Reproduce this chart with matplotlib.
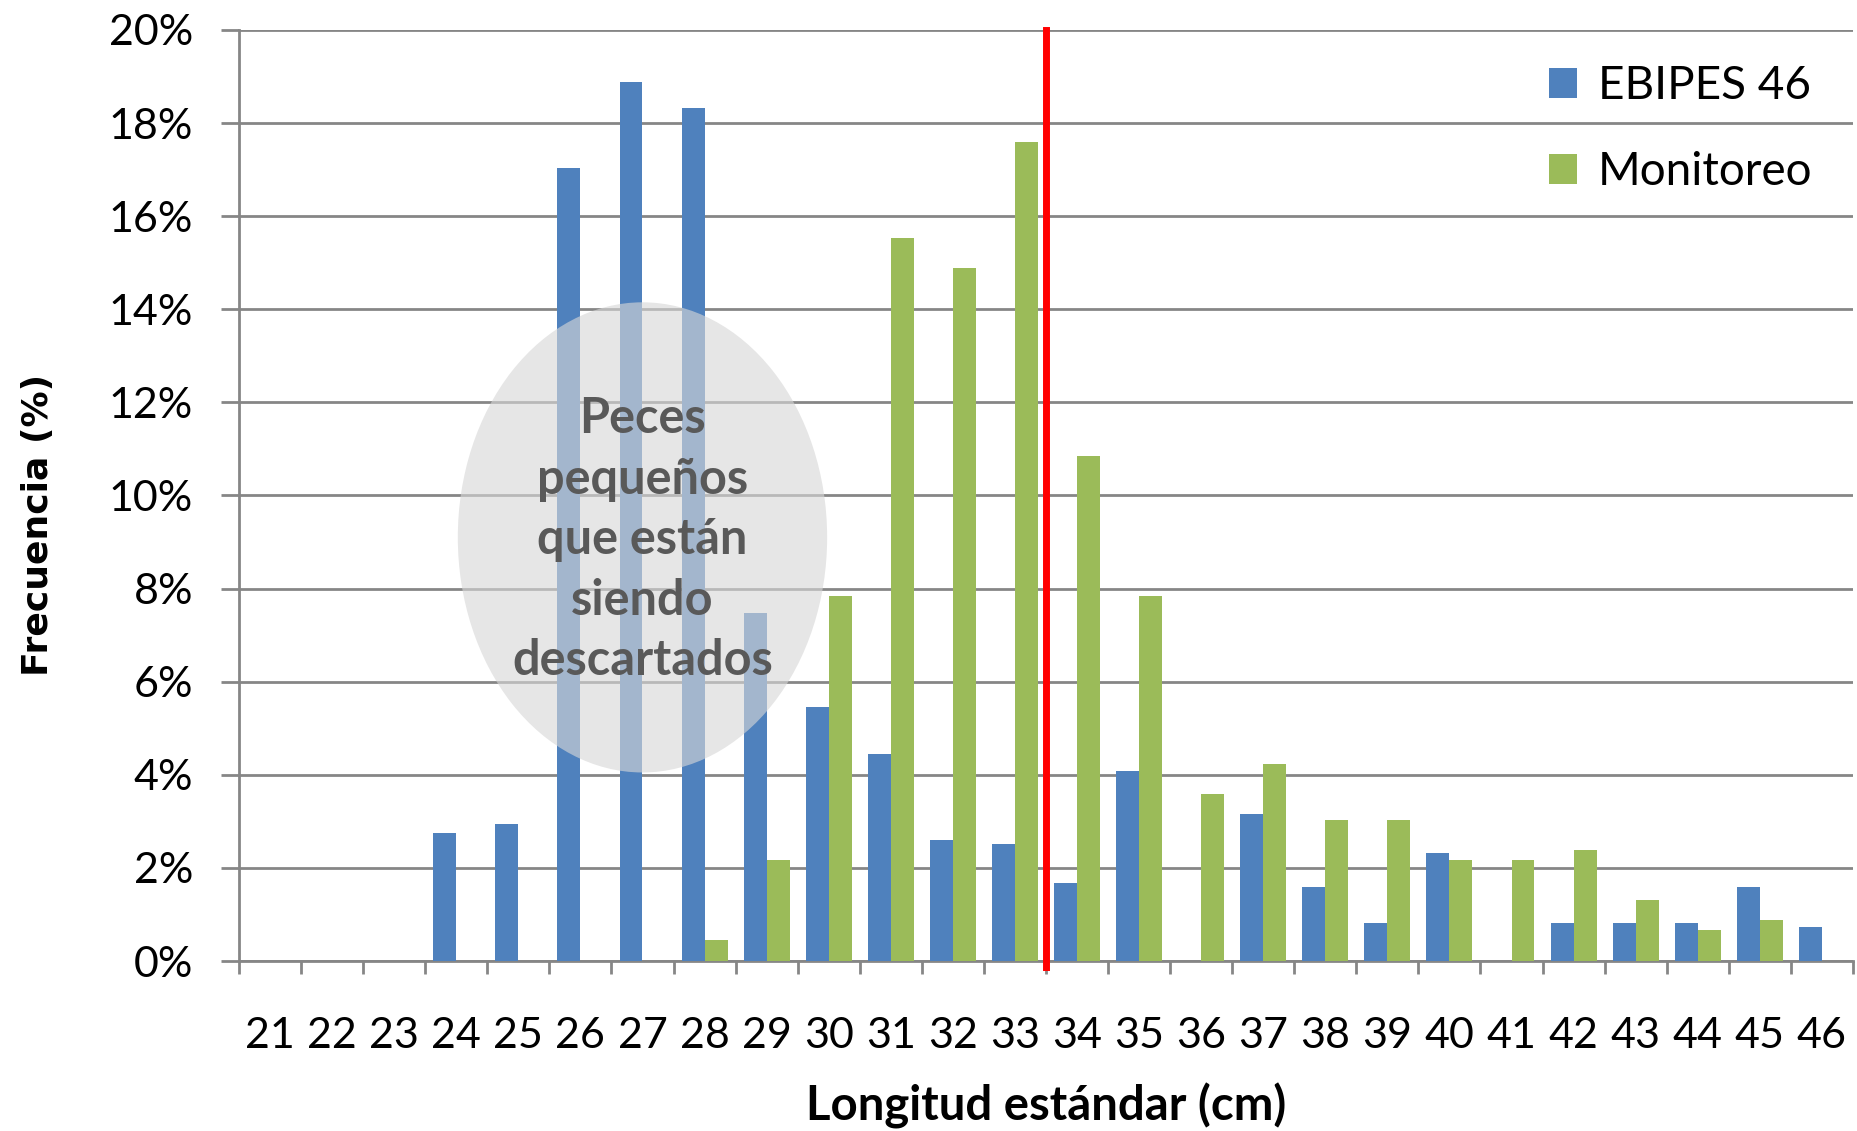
import numpy as np
import matplotlib
matplotlib.use('Agg')
import matplotlib.pyplot as plt
from matplotlib.patches import Ellipse
from matplotlib.ticker import FixedLocator

plt.rcParams['font.family'] = ['Lato', 'DejaVu Sans']

# longitud estandar (cm)
tallas = list(range(21, 47))

# frecuencia (%)
ebipes = [0, 0, 0, 2.74, 2.95, 17.03, 18.89, 18.32, 7.47, 5.46, 4.45, 2.60, 2.52,
          1.67, 4.09, 0, 3.16, 1.60, 0.81, 2.31, 0, 0.81, 0.81, 0.81, 1.60, 0.74]
monitoreo = [0, 0, 0, 0, 0, 0, 0, 0.45, 2.16, 7.85, 15.53, 14.89, 17.60,
             10.84, 7.85, 3.59, 4.24, 3.03, 3.03, 2.16, 2.16, 2.38, 1.30, 0.66, 0.88, 0]

talla_minima = 33.5

azul = '#4F81BD'
verde = '#9BBB59'
gris = '#868686'

fig = plt.figure(figsize=(18.57, 11.31), dpi=100)
ax = fig.add_axes([0.1287, 0.1503, 0.8691, 0.8232])

x = np.array(tallas)
w = 0.37
b1 = ax.bar(x - w/2, ebipes, w, color=azul, label='EBIPES 46', zorder=3)
b2 = ax.bar(x + w/2, monitoreo, w, color=verde, label='Monitoreo', zorder=3)

ax.set_xlim(20.5, 46.5)
ax.set_ylim(0, 20)

# talla minima
ax.axvline(talla_minima, ymin=-0.006, ymax=1, color='#FF0000', lw=5, zorder=4, clip_on=False)

# zona de descarte
ell = Ellipse((27, 9.1), 5.95, 10.1, facecolor=(215/255, 215/255, 215/255), alpha=0.62,
              edgecolor='none', zorder=5)
ax.add_patch(ell)
ax.text(27, 9.05, 'Peces\npequeños\nque están\nsiendo\ndescartados', ha='center', va='center',
        fontsize=35, fontweight='bold', color='#595959', linespacing=1.42, zorder=6)

# ejes
yt = np.arange(0, 21, 2)
ax.set_yticks(yt)
ax.set_yticklabels(['%d%%' % v for v in yt])
ax.set_xticks(x)
ax.set_xticklabels([str(t) for t in tallas])
ax.xaxis.set_minor_locator(FixedLocator(np.arange(20.5, 47, 1)))
ax.tick_params(axis='x', which='major', length=0, pad=40, labelsize=31)
ax.tick_params(axis='x', which='minor', length=9, width=2, color=gris, direction='out')
ax.tick_params(axis='y', length=13, width=2, color=gris, pad=20, labelsize=31)

ax.grid(axis='y', color=gris, lw=2, zorder=0)
ax.set_axisbelow(True)
for s in ['top', 'right']:
    ax.spines[s].set_visible(False)
for s in ['left', 'bottom']:
    ax.spines[s].set_color(gris)
    ax.spines[s].set_linewidth(2)

ax.set_xlabel('Longitud estándar (cm)', fontsize=34, fontweight='bold', labelpad=20)
ax.set_ylabel('Frecuencia (%)', fontsize=26, fontweight='bold', family='DejaVu Sans')
ax.yaxis.set_label_coords(-0.114, 0.468)

ax.legend(handles=[b1, b2], loc='upper right', bbox_to_anchor=(0.975, 0.962), frameon=False,
          fontsize=33, handlelength=0.62, handleheight=0.62, handletextpad=0.45,
          labelspacing=0.95, borderaxespad=0, borderpad=0)

plt.savefig('out.png', dpi=100)
